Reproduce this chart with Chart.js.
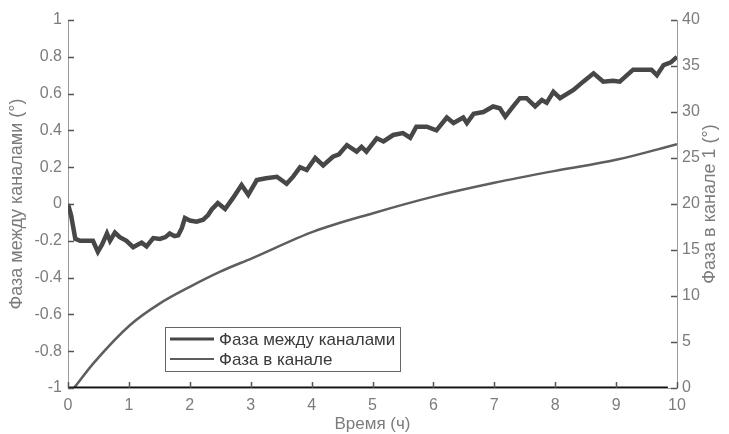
<!DOCTYPE html>
<html>
<head>
<meta charset="utf-8">
<script src="https://cdn.jsdelivr.net/npm/chart.js@4/dist/chart.umd.min.js"></script>
<style>
  html, body { margin: 0; padding: 0; background: #fff; }
  #wrap { width: 729px; height: 434px; position: relative; }
</style>
</head>
<body>
<div id="wrap"><canvas id="c" width="729" height="434"></canvas></div>
<script>
// ---- Data ----
const seriesNames = ["Фаза между каналами", "Фаза в канале"];
const xTitle = "Время (ч)";
const yLeftTitle = "Фаза между каналами (°)";
const yRightTitle = "Фаза в канале 1 (°)";

// Phase between channels (left axis, degrees)
const betweenX = [0, 0.05, 0.12, 0.2, 0.3, 0.41, 0.49, 0.56, 0.64, 0.69, 0.77, 0.85, 0.96, 1.07, 1.15, 1.21, 1.29, 1.4, 1.51, 1.6, 1.67, 1.75, 1.81, 1.87, 1.92, 2.0, 2.11, 2.22, 2.3, 2.36, 2.46, 2.58, 2.71, 2.85, 2.96, 3.1, 3.25, 3.43, 3.59, 3.7, 3.81, 3.92, 4.06, 4.19, 4.35, 4.45, 4.58, 4.74, 4.82, 4.9, 5.07, 5.18, 5.34, 5.5, 5.62, 5.72, 5.89, 6.05, 6.22, 6.33, 6.49, 6.55, 6.66, 6.82, 6.98, 7.09, 7.18, 7.31, 7.42, 7.53, 7.67, 7.78, 7.86, 7.97, 8.08, 8.3, 8.46, 8.63, 8.79, 8.95, 9.06, 9.28, 9.45, 9.58, 9.67, 9.78, 9.9, 10];
const betweenY = [0, -0.06, -0.19, -0.2, -0.2, -0.2, -0.26, -0.22, -0.16, -0.2, -0.155, -0.18, -0.2, -0.235, -0.22, -0.21, -0.23, -0.185, -0.19, -0.18, -0.16, -0.175, -0.17, -0.13, -0.076, -0.09, -0.096, -0.085, -0.06, -0.03, 0.005, -0.027, 0.033, 0.103, 0.05, 0.13, 0.14, 0.148, 0.11, 0.15, 0.2, 0.185, 0.25, 0.21, 0.257, 0.27, 0.32, 0.285, 0.31, 0.285, 0.357, 0.34, 0.375, 0.385, 0.36, 0.42, 0.42, 0.40, 0.47, 0.44, 0.47, 0.44, 0.49, 0.50, 0.53, 0.52, 0.475, 0.53, 0.575, 0.575, 0.53, 0.565, 0.55, 0.61, 0.575, 0.62, 0.665, 0.71, 0.665, 0.67, 0.665, 0.73, 0.73, 0.73, 0.70, 0.755, 0.77, 0.80];

// Phase in channel 1 (right axis, degrees)
const channelX = [0.1, 0.42, 1.02, 1.51, 2.0, 2.5, 3.02, 4.03, 5.01, 6, 7, 8, 9, 10];
const channelY = [0, 2.7, 6.85, 9.2, 11.0, 12.65, 14.1, 17.0, 19.0, 20.8, 22.3, 23.6, 24.8, 26.5];

// Dark baseline drawn along the bottom of the axes
const baseX = [0, 9.85];
const baseY = [-1, -1];

// Axis ranges / ticks
const xMin = 0, xMax = 10, xStep = 1;
const yLMin = -1, yLMax = 1, yLStep = 0.2;
const yRMin = 0, yRMax = 40, yRStep = 5;

// ---- Styling ----
const FONT = "'Liberation Sans', Arial, sans-serif";
const tickColor = "#7c7c7c";
const axisColor = "#9a9a9a";
const c1 = "#474747";
const c2 = "#5e5e5e";

const pts = (xs, ys) => xs.map((x, i) => ({ x: x, y: ys[i] }));
const fmt = v => String(Number(v.toFixed(1)));

const insideTicks = {
  id: "insideTicks",
  afterDraw(chart) {
    const ctx = chart.ctx;
    const a = chart.chartArea;
    const sx = chart.scales.x, sl = chart.scales.y, sr = chart.scales.y1;
    ctx.save();
    ctx.strokeStyle = "#555";
    ctx.lineWidth = 1.5;
    ctx.beginPath();
    sx.ticks.forEach(t => {
      const p = Math.round(sx.getPixelForValue(t.value)) + 0.5;
      ctx.moveTo(p, a.bottom); ctx.lineTo(p, a.bottom - 6);
    });
    sl.ticks.forEach(t => {
      const p = Math.round(sl.getPixelForValue(t.value)) + 0.5;
      ctx.moveTo(a.left, p); ctx.lineTo(a.left + 6, p);
    });
    sr.ticks.forEach(t => {
      const p = Math.round(sr.getPixelForValue(t.value)) + 0.5;
      ctx.moveTo(a.right, p); ctx.lineTo(a.right - 6, p);
    });
    ctx.stroke();

    // Axis titles
    ctx.fillStyle = tickColor;
    ctx.font = "18px " + FONT;
    ctx.textAlign = "center";
    ctx.textBaseline = "middle";
    const cy = (a.top + a.bottom) / 2;
    ctx.save();
    ctx.translate(17, cy);
    ctx.rotate(-Math.PI / 2);
    ctx.fillText(yLeftTitle, 0, 0);
    ctx.restore();
    ctx.save();
    ctx.translate(710, cy);
    ctx.rotate(-Math.PI / 2);
    ctx.fillText(yRightTitle, 0, 0);
    ctx.restore();
    ctx.font = "17px " + FONT;
    ctx.fillText(xTitle, (a.left + a.right) / 2, 424);

    // Legend box
    const lx = 165, ly = 327, lw = 235, lh = 44;
    ctx.fillStyle = "#fff";
    ctx.fillRect(lx, ly, lw, lh);
    ctx.strokeStyle = "#666";
    ctx.lineWidth = 1;
    ctx.strokeRect(lx + 0.5, ly + 0.5, lw, lh);
    const items = [
      { ds: chart.data.datasets[0], y: 339, w: 3 },
      { ds: chart.data.datasets[1], y: 359, w: 2 }
    ];
    ctx.textAlign = "left";
    ctx.font = "17px " + FONT;
    items.forEach(it => {
      ctx.strokeStyle = it.ds.borderColor;
      ctx.lineWidth = it.w;
      ctx.beginPath();
      ctx.moveTo(170, it.y); ctx.lineTo(214, it.y);
      ctx.stroke();
      ctx.fillStyle = "#3a3a3a";
      ctx.fillText(it.ds.label, 219, it.y + 1);
    });
    ctx.restore();
  }
};

new Chart(document.getElementById("c"), {
  type: "line",
  data: {
    datasets: [
      {
        label: seriesNames[0],
        data: pts(betweenX, betweenY),
        yAxisID: "y",
        borderColor: c1,
        borderWidth: 4.5,
        pointRadius: 0,
        tension: 0,
        order: 2
      },
      {
        label: seriesNames[1],
        data: pts(channelX, channelY),
        yAxisID: "y1",
        borderColor: c2,
        borderWidth: 2.5,
        pointRadius: 0,
        cubicInterpolationMode: "monotone",
        order: 1
      },
      {
        label: "baseline",
        data: pts(baseX, baseY),
        yAxisID: "y",
        borderColor: "#111",
        borderWidth: 3,
        pointRadius: 0,
        order: 0
      }
    ]
  },
  options: {
    responsive: false,
    animation: false,
    devicePixelRatio: 1,
    layout: { padding: { top: 20, left: 0, right: 0, bottom: 0 } },
    plugins: { legend: { display: false }, tooltip: { enabled: false } },
    scales: {
      x: {
        type: "linear",
        min: xMin, max: xMax,
        ticks: { stepSize: xStep, color: tickColor, font: { family: FONT, size: 16 }, padding: 8, maxRotation: 0 },
        grid: { drawOnChartArea: false, drawTicks: false },
        border: { display: true, color: axisColor, width: 1 },
        afterFit(s) { s.height = 46; }
      },
      y: {
        type: "linear", position: "left",
        min: yLMin, max: yLMax,
        ticks: { stepSize: yLStep, color: tickColor, font: { family: FONT, size: 16 }, padding: 6, callback: v => fmt(v) },
        grid: { drawOnChartArea: false, drawTicks: false },
        border: { display: true, color: axisColor, width: 1 },
        afterFit(s) { s.width = 68; }
      },
      y1: {
        type: "linear", position: "right",
        min: yRMin, max: yRMax,
        ticks: { stepSize: yRStep, color: tickColor, font: { family: FONT, size: 16 }, padding: 5 },
        grid: { drawOnChartArea: false, drawTicks: false },
        border: { display: true, color: axisColor, width: 1 },
        afterFit(s) { s.width = 52; }
      }
    }
  },
  plugins: [insideTicks]
});
</script>
</body>
</html>
